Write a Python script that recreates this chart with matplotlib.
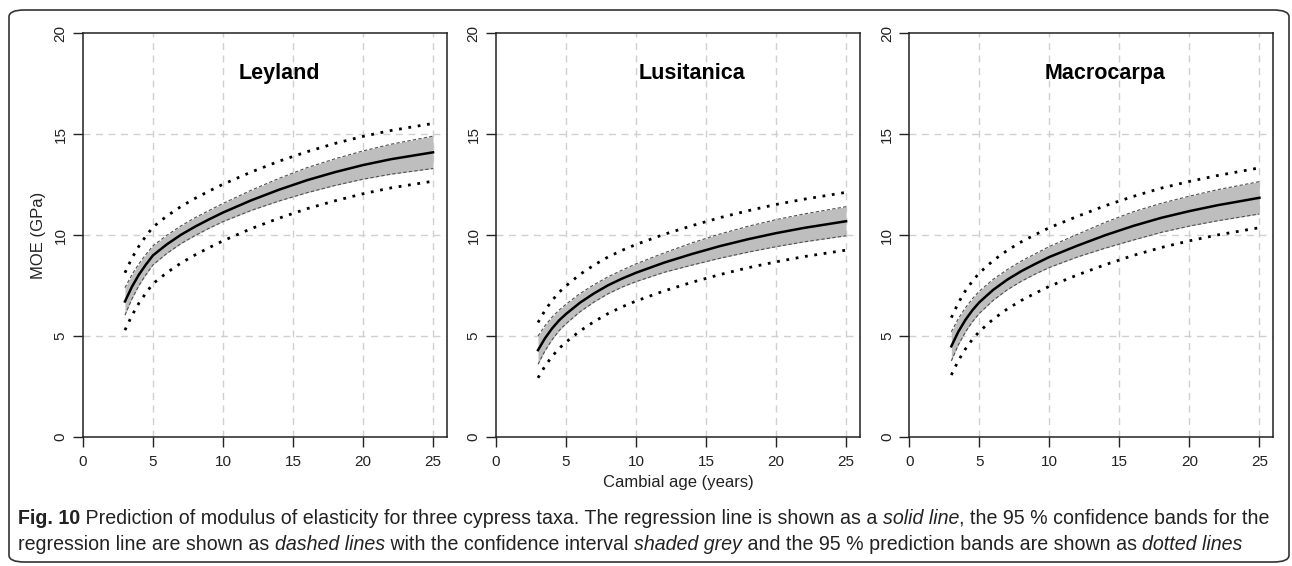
import matplotlib
matplotlib.use('Agg')
import matplotlib.pyplot as plt
from matplotlib.patches import FancyBboxPatch
from matplotlib.text import Annotation

plt.rcParams['font.family'] = ['Liberation Sans', 'DejaVu Sans']

# cambial age points
age = [3, 3.5, 4, 4.5, 5, 6, 7, 8, 9, 10, 12, 14, 16, 18, 20, 22, 25]

taxa = ['Leyland', 'Lusitanica', 'Macrocarpa']

# regression line (MOE, GPa)
leyland_mean = [6.72, 7.45, 8.05, 8.55, 9.00, 9.55, 10.02, 10.42, 10.78, 11.12, 11.72, 12.25, 12.72, 13.12, 13.47, 13.76, 14.10]
lusitanica_mean = [4.31, 4.90, 5.38, 5.78, 6.10, 6.66, 7.12, 7.52, 7.85, 8.14, 8.64, 9.07, 9.46, 9.80, 10.10, 10.36, 10.69]
macrocarpa_mean = [4.50, 5.22, 5.80, 6.28, 6.68, 7.30, 7.80, 8.22, 8.58, 8.92, 9.48, 10.00, 10.46, 10.86, 11.19, 11.48, 11.85]

# half width of 95 % confidence band
leyland_ci = [0.68, 0.60, 0.54, 0.50, 0.47, 0.45, 0.44, 0.44, 0.44, 0.45, 0.50, 0.56, 0.62, 0.66, 0.70, 0.74, 0.80]
lusitanica_ci = [0.70, 0.62, 0.56, 0.51, 0.48, 0.45, 0.43, 0.42, 0.42, 0.44, 0.48, 0.55, 0.60, 0.64, 0.67, 0.69, 0.72]
macrocarpa_ci = [0.72, 0.65, 0.60, 0.57, 0.55, 0.52, 0.50, 0.50, 0.50, 0.52, 0.56, 0.64, 0.70, 0.72, 0.74, 0.77, 0.80]

# half width of 95 % prediction band
leyland_pi = [1.42, 1.42, 1.41, 1.41, 1.40, 1.40, 1.40, 1.40, 1.40, 1.40, 1.40, 1.41, 1.41, 1.42, 1.42, 1.42, 1.43]
lusitanica_pi = [1.37, 1.38, 1.38, 1.39, 1.39, 1.40, 1.40, 1.40, 1.40, 1.40, 1.40, 1.40, 1.41, 1.41, 1.42, 1.42, 1.43]
macrocarpa_pi = [1.42, 1.43, 1.44, 1.44, 1.45, 1.45, 1.45, 1.45, 1.45, 1.45, 1.45, 1.46, 1.46, 1.47, 1.47, 1.47, 1.48]

means = [leyland_mean, lusitanica_mean, macrocarpa_mean]
cis = [leyland_ci, lusitanica_ci, macrocarpa_ci]
pis = [leyland_pi, lusitanica_pi, macrocarpa_pi]

xticks = [0, 5, 10, 15, 20, 25]
yticks = [0, 5, 10, 15, 20]


def panel(ax, name, mean, ci, pi):
    ci_lo = [m - c for m, c in zip(mean, ci)]
    ci_hi = [m + c for m, c in zip(mean, ci)]
    pi_lo = [m - p for m, p in zip(mean, pi)]
    pi_hi = [m + p for m, p in zip(mean, pi)]

    # grid first so it sits under the curves
    for gx in xticks[1:]:
        ax.axvline(gx, color='#d0d0d0', lw=1.0, ls=(0, (5, 4)), zorder=0)
    for gy in yticks[1:-1]:
        ax.axhline(gy, color='#d0d0d0', lw=1.0, ls=(0, (5, 4)), zorder=0)

    ax.fill_between(age, ci_lo, ci_hi, color='#bebebe', lw=0, zorder=1)
    ax.plot(age, ci_lo, color='#505050', lw=0.8, ls=(0, (3, 2)), zorder=2)
    ax.plot(age, ci_hi, color='#505050', lw=0.8, ls=(0, (3, 2)), zorder=2)
    ax.plot(age, pi_lo, color='black', lw=2.0, ls=(0, (1, 2.4)), zorder=2)
    ax.plot(age, pi_hi, color='black', lw=2.0, ls=(0, (1, 2.4)), zorder=2)
    ax.plot(age, mean, color='black', lw=1.8, zorder=3)

    ax.text(14, 18, name, ha='center', va='center', fontsize=15.5, fontweight='bold')

    ax.set_xlim(0, 26)
    ax.set_ylim(0, 20)
    ax.set_xticks(xticks)
    ax.set_yticks(yticks)
    ax.set_yticklabels([str(v) for v in yticks], rotation=90, va='center')
    ax.tick_params(direction='out', length=7, width=1, labelsize=11, colors='#222222')
    ax.tick_params(axis='x', pad=6)
    ax.tick_params(axis='y', pad=4)
    for sp in ax.spines.values():
        sp.set_linewidth(1.1)
        sp.set_color('#222222')


fig = plt.figure(figsize=(12.92, 5.66), dpi=100)
lefts = [0.0642, 0.3839, 0.7038]
for i in range(3):
    ax = fig.add_axes([lefts[i], 0.2275, 0.2818, 0.7140])
    panel(ax, taxa[i], means[i], cis[i], pis[i])

fig.text(38 / 1292, 1 - 235 / 566, 'MOE (GPa)', rotation=90, ha='center', va='center',
         fontsize=12, color='#222222')
fig.text(0.5248, 1 - 482 / 566, 'Cambial age (years)', ha='center', va='center',
         fontsize=12, color='#222222')

# rounded frame around the figure
frame = FancyBboxPatch((9 / 1292, 4 / 566), 1280 / 1292, 552 / 566,
                       boxstyle='round,pad=0,rounding_size=0.012',
                       transform=fig.transFigure, fill=False,
                       edgecolor='#333333', lw=1.2)
fig.patches.append(frame)

# caption, built piece by piece to mix bold / italic
cap_size = 14.1

line1 = [('Fig. 10', 'normal', 'bold'),
         (' Prediction of modulus of elasticity for three cypress taxa. The regression line is shown as a ', 'normal', 'normal'),
         ('solid line', 'italic', 'normal'),
         (', the 95 % confidence bands for the', 'normal', 'normal')]
line2 = [('regression line are shown as ', 'normal', 'normal'),
         ('dashed lines', 'italic', 'normal'),
         (' with the confidence interval ', 'normal', 'normal'),
         ('shaded grey', 'italic', 'normal'),
         (' and the 95 % prediction bands are shown as ', 'normal', 'normal'),
         ('dotted lines', 'italic', 'normal')]


def caption(pieces, y):
    last = None
    for txt, style, weight in pieces:
        kw = dict(fontsize=cap_size, style=style, fontweight=weight,
                  color='#222222', va='bottom', ha='left')
        if last is None:
            last = fig.text(18 / 1292, y, txt, **kw)
        else:
            last = fig.add_artist(Annotation(txt, xy=(1, 0), xycoords=last,
                                             annotation_clip=False, **kw))


caption(line1, 1 - 528 / 566)
caption(line2, 1 - 554 / 566)

fig.savefig('out.png', dpi=100)
